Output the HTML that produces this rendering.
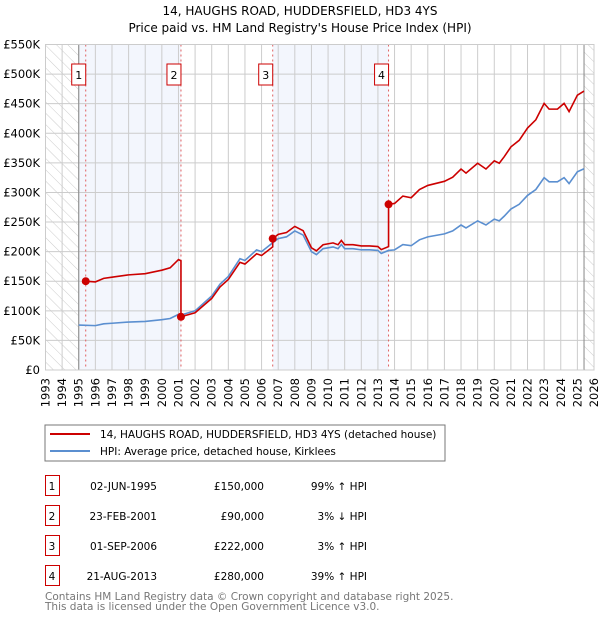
<!DOCTYPE html>
<html><head><meta charset="utf-8"><style>
body{margin:0;background:#fff;font-family:"DejaVu Sans","Liberation Sans",sans-serif;}
svg text{font-family:"DejaVu Sans","Liberation Sans",sans-serif;}
</style></head><body>
<svg id="c" width="600" height="620" xmlns="http://www.w3.org/2000/svg">
<defs><pattern id="hatch" width="8" height="8" patternUnits="userSpaceOnUse" patternTransform="rotate(-45)"><rect width="8" height="8" fill="#fff"/><line x1="0" y1="0" x2="0" y2="8" stroke="#ccc" stroke-width="1"/></pattern></defs>
<text x="300" y="15" text-anchor="middle" font-size="12" fill="#000">14, HAUGHS ROAD, HUDDERSFIELD, HD3 4YS</text>
<text x="300" y="32" text-anchor="middle" font-size="12" fill="#000">Price paid vs. HM Land Registry's House Price Index (HPI)</text>
<g id="plot"></g>
<rect x="45" y="425" width="400" height="36" fill="#fff" stroke="#777"/>
<line x1="50" y1="434" x2="90" y2="434" stroke="#cc0000" stroke-width="2"/>
<text x="100" y="438" font-size="10.5">14, HAUGHS ROAD, HUDDERSFIELD, HD3 4YS (detached house)</text>
<line x1="50" y1="451" x2="90" y2="451" stroke="#5b8fd0" stroke-width="2"/>
<text x="100" y="455" font-size="10.5">HPI: Average price, detached house, Kirklees</text>
<g id="table" font-size="10.5"></g>
<text x="45" y="600" font-size="10.5" fill="#777">Contains HM Land Registry data © Crown copyright and database right 2025.</text>
<text x="45" y="610" font-size="10.5" fill="#777">This data is licensed under the Open Government Licence v3.0.</text>
</svg>
<script>
const hpiYears=[1995.0,1996.0,1996.5,1997.0,1998.0,1999.0,2000.0,2000.5,2001.0,2001.15,2002.0,2003.0,2003.5,2004.0,2004.7,2005.0,2005.7,2006.0,2006.67,2007.0,2007.5,2008.0,2008.5,2009.0,2009.3,2009.7,2010.3,2010.6,2010.8,2011.0,2011.5,2012.0,2012.5,2013.0,2013.2,2013.64,2014.0,2014.5,2015.0,2015.5,2016.0,2017.0,2017.5,2018.0,2018.3,2019.0,2019.5,2020.0,2020.3,2020.6,2021.0,2021.5,2022.0,2022.5,2023.0,2023.3,2023.8,2024.2,2024.5,2025.0,2025.4];
const hpiValues=[76,75,78,79,81,82,85,87,94,93,100,125,145,158,188,185,203,200,215,222,225,235,228,200,195,205,208,205,212,205,205,203,203,202,197,202,203,212,210,220,225,230,235,245,240,252,245,255,252,260,272,280,295,305,325,318,318,325,315,335,340];
const saleDates=[1995.42,2001.15,2006.67,2013.64];
const salePrices=[150,90,222,280];
const saleLabels=["1","2","3","4"];
const saleDateText=["02-JUN-1995","23-FEB-2001","01-SEP-2006","21-AUG-2013"];
const salePriceText=["£150,000","£90,000","£222,000","£280,000"];
const saleHpiText=["99% ↑ HPI","3% ↓ HPI","3% ↑ HPI","39% ↑ HPI"];
const yTicks=[0,50,100,150,200,250,300,350,400,450,500,550];
const yTickLabels=["£0","£50K","£100K","£150K","£200K","£250K","£300K","£350K","£400K","£450K","£500K","£550K"];
const xStart=1993,xEnd=2026,yMax=550;
const L=45.5,R=594,T=44.5,B=370;
const X=v=>L+(v-xStart)/(xEnd-xStart)*(R-L);
const Y=v=>B-v/yMax*(B-T);
const NS="http://www.w3.org/2000/svg";
const g=document.getElementById('plot');
function mk(tag,attrs,parent){const e=document.createElementNS(NS,tag);for(const k in attrs)e.setAttribute(k,attrs[k]);(parent||g).appendChild(e);return e;}
function hpiAt(t){for(let i=0;i<hpiYears.length-1;i++){if(t<=hpiYears[i+1]){const f=(t-hpiYears[i])/(hpiYears[i+1]-hpiYears[i]);return hpiValues[i]+f*(hpiValues[i+1]-hpiValues[i]);}}return hpiValues[hpiValues.length-1];}
const bands=[[1995,saleDates[1]],[saleDates[2],saleDates[3]]];
bands.forEach((b,i)=>{const r=mk('rect',{x:X(b[0]),y:T,width:X(b[1])-X(b[0]),height:B-T,fill:'#f0f4fd',opacity:0.8});

});
let h=mk('rect',{x:L,y:T,width:X(1995)-L,height:B-T,fill:'url(#hatch)'});


h=mk('rect',{x:X(2025.4),y:T,width:R-X(2025.4),height:B-T,fill:'url(#hatch)'});


for(let yr=xStart;yr<=xEnd;yr++){const l=mk('line',{x1:X(yr),x2:X(yr),y1:T,y2:B,stroke:'#ccc','stroke-width':1});


const t=mk('text',{transform:`translate(${X(yr)+4},378) rotate(-90)`,'text-anchor':'end','font-size':11.5});t.textContent=yr;

}
yTicks.forEach((v,i)=>{const l=mk('line',{x1:L,x2:R,y1:Y(v),y2:Y(v),stroke:'#ccc','stroke-width':1});


const t=mk('text',{x:40,y:Y(v)+4,'text-anchor':'end','font-size':11.5});t.textContent=yTickLabels[i];

});
let ax=mk('line',{x1:X(1995),x2:X(1995),y1:T,y2:B,stroke:'#888'});


ax=mk('line',{x1:X(2025.4),x2:X(2025.4),y1:T,y2:B,stroke:'#888'});


saleDates.forEach((d,i)=>{const l=mk('line',{x1:X(d),x2:X(d),y1:T,y2:B,stroke:'#e06060','stroke-dasharray':'2,3','stroke-width':1});

});
const hp=mk('polyline',{points:hpiYears.map((t,i)=>X(t)+','+Y(hpiValues[i])).join(' '),fill:'none',stroke:'#5b8fd0','stroke-width':1.6});


let pts=[];
for(let s=0;s<saleDates.length;s++){const f=salePrices[s]/hpiAt(saleDates[s]);const end=s<saleDates.length-1?saleDates[s+1]:hpiYears[hpiYears.length-1];
pts.push([saleDates[s],salePrices[s]]);
hpiYears.forEach((t,i)=>{if(t>saleDates[s]&&t<end)pts.push([t,hpiValues[i]*f]);});
pts.push([end,hpiAt(end)*f]);}
const pl=mk('polyline',{points:pts.map(p=>X(p[0])+','+Y(p[1])).join(' '),fill:'none',stroke:'#cc0000','stroke-width':1.6});


saleDates.forEach((d,i)=>{const c=mk('circle',{cx:X(d),cy:Y(salePrices[i]),r:4,fill:'#cc0000'});


const bx=mk('rect',{x:X(d)-14,y:64,width:14,height:21,fill:'#fff',stroke:'#cc0000'});


const t=mk('text',{x:X(d)-7,y:79,'text-anchor':'middle','font-size':11});t.textContent=saleLabels[i];

});
let fr=mk('rect',{x:L,y:T,width:R-L,height:B-T,fill:'none',stroke:'#ccc'});


const tb=document.getElementById('table');
saleLabels.forEach((lab,i)=>{const y0=475+i*30;
const r=mk('rect',{x:45.5,y:y0+0.5,width:14,height:20,fill:'#fff',stroke:'#cc0000'},tb);


const cells=[[52,'middle',lab],[157,'end',saleDateText[i]],[264,'end',salePriceText[i]],[367,'end',saleHpiText[i]]];
cells.forEach((c,j)=>{const t=mk('text',{x:c[0],y:y0+15,'text-anchor':c[1]},tb);t.textContent=c[2];

});});
</script>
</body></html>
